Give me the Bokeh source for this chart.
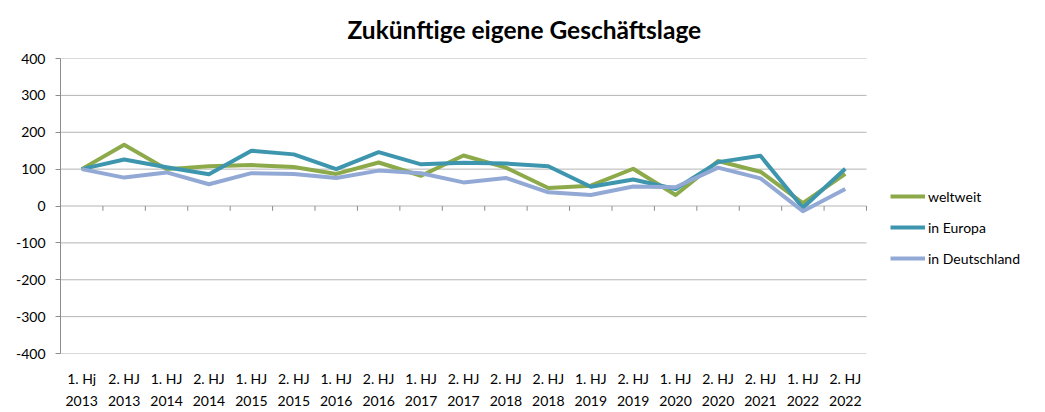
from bokeh.plotting import figure
from bokeh.models import FixedTicker, Legend, LegendItem, Range1d
from bokeh.embed import file_html
from bokeh.resources import INLINE

labels = ["1. Hj\n2013", "2. HJ\n2013", "1. HJ\n2014", "2. HJ\n2014", "1. HJ\n2015",
          "2. HJ\n2015", "1. HJ\n2016", "2. HJ\n2016", "1. HJ\n2017", "2. HJ\n2017",
          "2. HJ\n2018", "2. HJ\n2018", "1. HJ\n2019", "2. HJ\n2019", "1. HJ\n2020",
          "2. HJ\n2020", "2. HJ\n2021", "1. HJ\n2022", "2. HJ\n2022"]
weltweit = [100, 166, 100, 108, 111, 106, 87, 118, 82, 137, 104, 49, 55, 101, 30, 122, 93, 8, 87]
europa = [100, 126, 105, 86, 150, 140, 100, 146, 113, 117, 115, 108, 52, 72, 46, 119, 136, -5, 101]
deutschland = [100, 77, 91, 59, 89, 87, 76, 96, 89, 64, 76, 37, 30, 53, 51, 104, 75, -14, 46]
y_ticks = [-400, -300, -200, -100, 0, 100, 200, 300, 400]

n = len(labels)
xs = [i + 0.5 for i in range(n)]

FONT = "Lato"
GRID = "#b4b4b4"
AXIS = "#8c8c8c"

W, H = 1045, 412
LEFT, TOP, BOTTOM = 60, 58, 58
PLOT_W = 806                      # width of the category area in px
FRAME_W = W - LEFT                # frame extends under the legend area
x_end = n * FRAME_W / PLOT_W

p = figure(width=W, height=H, output_backend="svg", toolbar_location=None,
           x_range=Range1d(0, x_end), y_range=Range1d(-400, 400),
           min_border_left=LEFT, min_border_right=0, min_border_top=TOP,
           min_border_bottom=BOTTOM)
p.outline_line_color = None
p.background_fill_color = "white"
p.border_fill_color = "white"

p.title.text = "Zukünftige eigene Geschäftslage"
p.title.text_font = FONT
p.title.text_font_style = "bold"
p.title.text_font_size = "24.5px"
p.title.align = "left"
p.title.offset = 287
p.title.standoff = 25
p.title.vertical_align = "top"
p.title.text_color = "black"

# x axis
p.xaxis.ticker = FixedTicker(ticks=xs)
p.xaxis.major_label_overrides = {x: l for x, l in zip(xs, labels)}
p.xaxis.major_tick_line_color = None
p.xaxis.minor_tick_line_color = None
p.xaxis.axis_line_color = None
p.xaxis.major_label_text_font = FONT
p.xaxis.major_label_text_font_size = "14px"
p.xaxis.major_label_text_color = "black"
p.xaxis.major_label_standoff = 10
p.xaxis.major_label_text_line_height = 1.35
p.xgrid.grid_line_color = None

# y axis
p.yaxis.ticker = FixedTicker(ticks=y_ticks)
p.yaxis.major_label_overrides = {t: str(t) for t in y_ticks}
p.yaxis.axis_line_color = AXIS
p.yaxis.major_tick_line_color = AXIS
p.yaxis.major_tick_out = 5
p.yaxis.major_tick_in = 0
p.yaxis.minor_tick_line_color = None
p.yaxis.major_label_text_font = FONT
p.yaxis.major_label_text_font_size = "14px"
p.yaxis.major_label_text_color = "black"
p.yaxis.major_label_standoff = 10
p.ygrid.grid_line_color = None

# horizontal grid lines over the category area only
p.segment(x0=[0] * len(y_ticks), y0=y_ticks, x1=[n] * len(y_ticks), y1=y_ticks,
          line_color=GRID, line_width=1)

# category tick marks on the zero line
bx = list(range(1, n + 1))
p.segment(x0=bx, y0=[0] * n, x1=bx, y1=[-13] * n, line_color=AXIS, line_width=1)

r1 = p.line(xs, weltweit, line_color="#8DAA4B", line_width=4, line_join="round")
r2 = p.line(xs, europa, line_color="#3D96AE", line_width=4, line_join="round")
r3 = p.line(xs, deutschland, line_color="#93A9D5", line_width=4, line_join="round")

legend = Legend(items=[LegendItem(label="weltweit", renderers=[r1]),
                       LegendItem(label="in Europa", renderers=[r2]),
                       LegendItem(label="in Deutschland", renderers=[r3])],
                location=(PLOT_W + 24, 85), orientation="vertical")
legend.border_line_color = None
legend.background_fill_alpha = 0
legend.padding = 0
legend.margin = 0
legend.spacing = 11
legend.glyph_width = 35
legend.glyph_height = 20
legend.label_standoff = 3
legend.label_text_font = FONT
legend.label_text_font_size = "14px"
legend.label_text_color = "black"
p.add_layout(legend, "center")

open("out.html", "w").write(file_html(p, INLINE))
